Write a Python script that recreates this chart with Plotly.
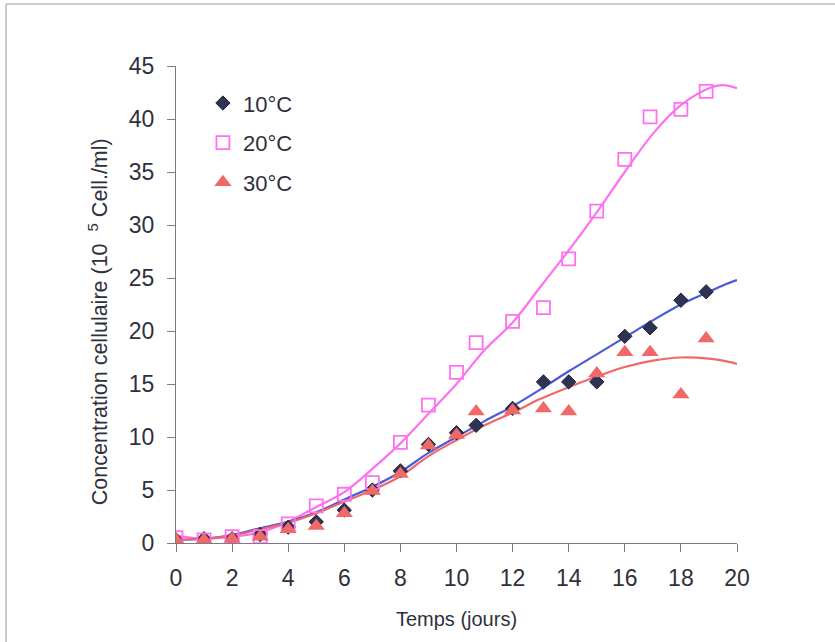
import plotly.graph_objects as go

# Measured data (time in days, concentration in 10^5 cells/ml)
t10 = [0, 1, 2, 3, 4, 5, 6, 7, 8, 9, 10, 10.7, 12, 13.1, 14, 15, 16, 16.9, 18, 18.9]
c10 = [0.3, 0.4, 0.4, 0.8, 1.5, 2.0, 3.1, 5.0, 6.8, 9.3, 10.4, 11.1, 12.7, 15.2, 15.2, 15.2, 19.5, 20.3, 22.9, 23.7]

t20 = [0, 1, 2, 3, 4, 5, 6, 7, 8, 9, 10, 10.7, 12, 13.1, 14, 15, 16, 16.9, 18, 18.9]
c20 = [0.5, 0.3, 0.6, 0.6, 1.8, 3.5, 4.6, 5.7, 9.5, 13.0, 16.1, 18.9, 20.9, 22.2, 26.8, 31.3, 36.2, 40.2, 40.9, 42.6]

t30 = [0, 1, 2, 3, 4, 5, 6, 7, 8, 9, 10, 10.7, 12, 13.1, 14, 15, 16, 16.9, 18, 18.9]
c30 = [0.3, 0.3, 0.4, 0.6, 1.3, 1.6, 2.8, 4.9, 6.5, 9.2, 10.2, 12.4, 12.5, 12.7, 12.4, 16.0, 18.0, 18.0, 14.0, 19.3]

# Fitted model curves
tfit = [0, 1, 2, 3, 4, 5, 6, 7, 8, 9, 10, 11, 12, 13, 14, 15, 16, 17, 18, 19, 19.5, 20]
f10 = [0.3, 0.4, 0.75, 1.4, 2.0, 2.9, 4.1, 5.3, 6.7, 8.5, 10.0, 11.5, 12.9, 14.5, 16.2, 17.8, 19.4, 21.0, 22.5, 23.7, 24.3, 24.8]
f20 = [0.7, 0.4, 0.6, 1.0, 2.0, 3.4, 4.8, 7.0, 9.4, 12.2, 15.0, 18.2, 20.8, 24.2, 27.6, 31.2, 35.0, 38.6, 41.3, 42.9, 43.2, 42.9]
f30 = [0.3, 0.4, 0.7, 1.3, 1.9, 2.8, 3.9, 5.0, 6.3, 8.2, 9.7, 11.1, 12.3, 13.6, 14.7, 15.7, 16.6, 17.2, 17.5, 17.4, 17.2, 16.9]

x_ticks = list(range(0, 21, 2))
y_ticks = list(range(0, 46, 5))

col_blue = "#4a5ad8"
col_pink = "#ff70f0"
col_red = "#f06868"
col_navy = "#2e3352"
txt = "#30303c"
axc = "#7a7a88"

fig = go.Figure()

# lines
fig.add_trace(go.Scatter(x=tfit, y=f20, mode="lines", line=dict(color=col_pink, width=2.2, shape="spline"), showlegend=False, hoverinfo="skip"))
fig.add_trace(go.Scatter(x=tfit, y=f10, mode="lines", line=dict(color=col_blue, width=2.2, shape="spline"), showlegend=False, hoverinfo="skip"))
fig.add_trace(go.Scatter(x=tfit, y=f30, mode="lines", line=dict(color=col_red, width=2.2, shape="spline"), showlegend=False, hoverinfo="skip"))

# markers
fig.add_trace(go.Scatter(x=t10, y=c10, mode="markers", name="10°C", legendgroup="a",
                         marker=dict(symbol="diamond", size=11, color=col_navy, line=dict(color="#1e2238", width=1))))
fig.add_trace(go.Scatter(x=t20, y=c20, mode="markers", name="20°C", legendgroup="b",
                         marker=dict(symbol="square-open", size=13, color=col_pink, line=dict(color=col_pink, width=1.8))))
fig.add_trace(go.Scatter(x=t30, y=c30, mode="markers", name="30°C", legendgroup="c",
                         marker=dict(symbol="triangle-up", size=15, color=col_red)))

axis_font = dict(family="Liberation Sans, Arial, sans-serif", size=23, color=txt)

fig.update_layout(
    width=835, height=642,
    margin=dict(l=176, r=98, t=66, b=99),
    paper_bgcolor="white", plot_bgcolor="white",
    font=dict(family="Liberation Sans, Arial, sans-serif", color=txt),
    legend=dict(x=0.048, y=0.966, xanchor="left", yanchor="top",
                font=dict(size=22, color=txt), bgcolor="rgba(0,0,0,0)",
                tracegroupgap=8, itemwidth=30),
    xaxis=dict(range=[0, 20], tickmode="array", tickvals=x_ticks, ticks="outside", ticklen=8,
               tickcolor=axc, showline=True, linecolor=axc, linewidth=1.2,
               showgrid=False, zeroline=False, tickfont=axis_font, ticklabelstandoff=6,
               title=dict(text="Temps (jours)", font=dict(size=20, color=txt), standoff=22)),
    yaxis=dict(range=[0, 45], tickmode="array", tickvals=y_ticks, ticks="outside", ticklen=8,
               tickcolor=axc, showline=True, linecolor=axc, linewidth=1.2,
               showgrid=False, zeroline=False, tickfont=axis_font, ticklabelstandoff=8),
    annotations=[dict(text="Concentration cellulaire (10  <sup>5</sup> Cell./ml)", textangle=-90,
                      xref="paper", yref="paper", x=-0.139, y=0.463, xanchor="center", yanchor="middle",
                      showarrow=False, font=dict(size=21.5, color=txt))],
    shapes=[dict(type="rect", xref="paper", yref="paper", x0=-0.303, x1=1.3, y0=-0.3, y1=1.130,
                 line=dict(color="#9a9aa0", width=1), fillcolor="rgba(0,0,0,0)", layer="below")],
)

fig.write_html("out.html", config={"displayModeBar": False},
               post_script="document.body.style.margin='0';document.body.style.overflow='hidden';")
